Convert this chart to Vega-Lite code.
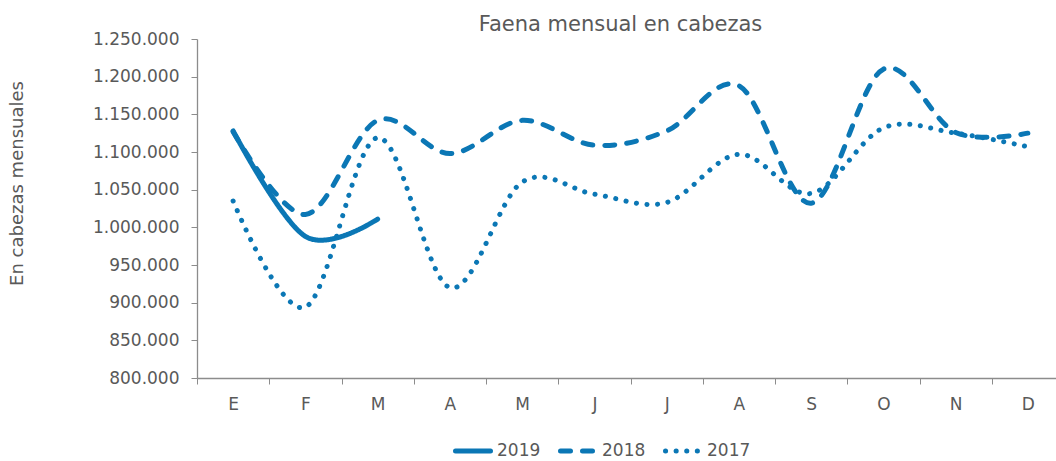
{
  "$schema": "https://vega.github.io/schema/vega-lite/v6.json",
  "width": 867,
  "height": 339,
  "autosize": {"type": "none"},
  "padding": {"left": 197, "top": 39, "right": 0, "bottom": 83},
  "background": "white",
  "title": {
    "text": "Faena mensual en cabezas",
    "font": "DejaVu Sans",
    "fontSize": 21,
    "fontWeight": "normal",
    "color": "#595959",
    "anchor": "middle",
    "dx": -10,
    "dy": 29,
    "offset": 7,
    "baseline": "alphabetic"
  },
  "config": {
    "locale": {"number": {"decimal": ",", "thousands": ".", "grouping": [3], "currency": ["$", ""]}},
    "view": {"stroke": null},
    "font": "DejaVu Sans"
  },
  "data": {
    "values": [
      {"anio": "2019", "mes": 1, "cabezas": 1128000},
      {"anio": "2019", "mes": 2, "cabezas": 988000},
      {"anio": "2019", "mes": 3, "cabezas": 1011000},
      {"anio": "2018", "mes": 1, "cabezas": 1127000},
      {"anio": "2018", "mes": 2, "cabezas": 1017000},
      {"anio": "2018", "mes": 3, "cabezas": 1142000},
      {"anio": "2018", "mes": 4, "cabezas": 1098000},
      {"anio": "2018", "mes": 5, "cabezas": 1142000},
      {"anio": "2018", "mes": 6, "cabezas": 1109000},
      {"anio": "2018", "mes": 7, "cabezas": 1128000},
      {"anio": "2018", "mes": 8, "cabezas": 1188000},
      {"anio": "2018", "mes": 9, "cabezas": 1032000},
      {"anio": "2018", "mes": 10, "cabezas": 1210000},
      {"anio": "2018", "mes": 11, "cabezas": 1126000},
      {"anio": "2018", "mes": 12, "cabezas": 1125000},
      {"anio": "2017", "mes": 1, "cabezas": 1035000},
      {"anio": "2017", "mes": 2, "cabezas": 894000},
      {"anio": "2017", "mes": 3, "cabezas": 1119000},
      {"anio": "2017", "mes": 4, "cabezas": 920000},
      {"anio": "2017", "mes": 5, "cabezas": 1060000},
      {"anio": "2017", "mes": 6, "cabezas": 1044000},
      {"anio": "2017", "mes": 7, "cabezas": 1033000},
      {"anio": "2017", "mes": 8, "cabezas": 1097000},
      {"anio": "2017", "mes": 9, "cabezas": 1045000},
      {"anio": "2017", "mes": 10, "cabezas": 1132000},
      {"anio": "2017", "mes": 11, "cabezas": 1125000},
      {"anio": "2017", "mes": 12, "cabezas": 1107000}
    ]
  },
  "mark": {"type": "line", "interpolate": "cardinal", "strokeWidth": 5, "strokeCap": "round", "color": "#0B77B5"},
  "encoding": {
    "x": {
      "field": "mes",
      "type": "ordinal",
      "scale": {"type": "band", "paddingInner": 0, "paddingOuter": 0, "domain": [1, 2, 3, 4, 5, 6, 7, 8, 9, 10, 11, 12]},
      "axis": {
        "title": null,
        "labelAngle": 0,
        "labelExpr": "['E','F','M','A','M','J','J','A','S','O','N','D'][datum.value - 1]",
        "labelFont": "DejaVu Sans",
        "labelFontSize": 17,
        "labelColor": "#595959",
        "labelPadding": 12,
        "tickBand": "extent",
        "tickSize": 6,
        "tickColor": "#8C8C8C",
        "domainColor": "#8C8C8C",
        "domainWidth": 1.3,
        "grid": false
      }
    },
    "y": {
      "field": "cabezas",
      "type": "quantitative",
      "scale": {"domain": [800000, 1250000], "zero": false, "nice": false},
      "axis": {
        "title": "En cabezas mensuales",
        "titleFont": "DejaVu Sans",
        "titleFontSize": 18,
        "titleFontWeight": "normal",
        "titleColor": "#595959",
        "titleX": -180,
        "titleY": 144,
        "titleBaseline": "middle",
        "titleAlign": "center",
        "values": [800000, 850000, 900000, 950000, 1000000, 1050000, 1100000, 1150000, 1200000, 1250000],
        "format": ",.0f",
        "labelFont": "DejaVu Sans",
        "labelFontSize": 17,
        "labelColor": "#595959",
        "labelPadding": 12,
        "tickSize": 6,
        "tickColor": "#8C8C8C",
        "domainColor": "#8C8C8C",
        "domainWidth": 1.3,
        "grid": false
      }
    },
    "strokeDash": {
      "field": "anio",
      "type": "nominal",
      "scale": {"domain": ["2019", "2018", "2017"], "range": [[1, 0], [10, 12], [0.1, 10.5]]},
      "legend": {
        "orient": "none",
        "legendX": 256,
        "legendY": 392,
        "direction": "horizontal",
        "title": null,
        "symbolType": "stroke",
        "symbolSize": 1225,
        "symbolStrokeWidth": 5,
        "symbolStrokeColor": "#0B77B5",
        "labelFont": "DejaVu Sans",
        "labelFontSize": 17,
        "labelColor": "#595959",
        "labelOffset": 4,
        "columnPadding": 9,
        "encode": {"symbols": {"update": {"strokeCap": {"value": "round"}, "stroke": {"value": "#0B77B5"}}}}
      }
    }
  }
}
